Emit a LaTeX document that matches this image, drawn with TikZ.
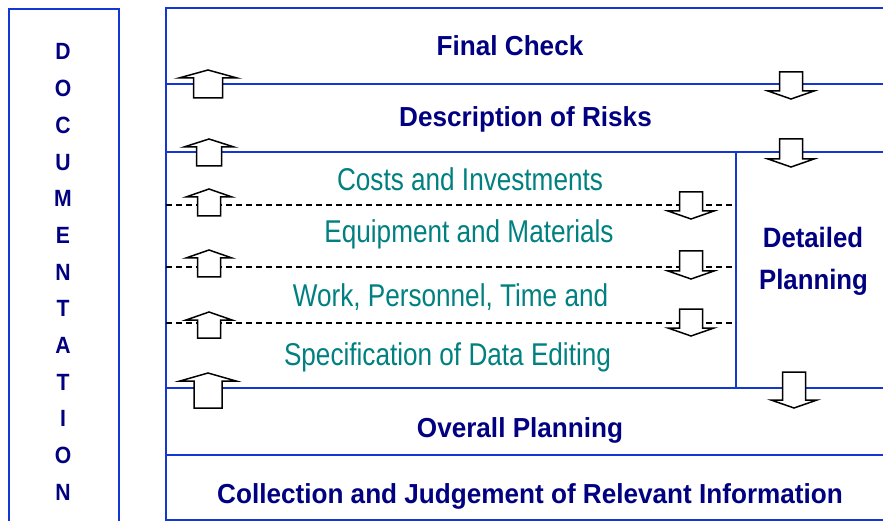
\documentclass[tikz,border=0pt]{standalone}
\usepackage{fontspec}
\setmainfont{Liberation Sans}
\newfontfamily\navyfont{Liberation Sans}[FakeStretch=0.95]
\newfontfamily\detfont{Liberation Sans}[FakeStretch=0.92]
\newfontfamily\docfont{Liberation Sans}[FakeStretch=0.9]
\newfontfamily\tealfont{Liberation Sans}[FakeStretch=0.83]
\definecolor{frameblue}{RGB}{20,55,210}
\definecolor{navytext}{RGB}{0,0,128}
\definecolor{tealtext}{RGB}{0,128,128}
\newcommand\blkup[4]{% x, tip y, total length, head half width
  \draw[blockarrow] (#1-#4/2,#2+#3) -- (#1-#4/2,#2+8) -- (#1-#4,#2+8) -- (#1,#2) -- (#1+#4,#2+8) -- (#1+#4/2,#2+8) -- (#1+#4/2,#2+#3) -- cycle;}
\newcommand\blkdown[4]{% x, top y, total length, head half width
  \draw[blockarrow] (#1-#4/2,#2) -- (#1-#4/2,#2+#3-8) -- (#1-#4,#2+#3-8) -- (#1,#2+#3) -- (#1+#4,#2+#3-8) -- (#1+#4/2,#2+#3-8) -- (#1+#4/2,#2) -- cycle;}
\begin{document}
\begin{tikzpicture}[x=1pt,y=-1pt,
  frame/.style={draw=frameblue,line width=2pt},
  dashline/.style={draw=black,line width=1.3pt,dash pattern=on 6pt off 4pt},
  blockarrow/.style={draw=black,fill=white,line width=1.5pt,line join=miter},
  hd/.style={font=\navyfont\bfseries\fontsize{27.5}{31}\selectfont,text=navytext,anchor=base,inner sep=0pt},
  det/.style={font=\detfont\bfseries\fontsize{28}{32}\selectfont,text=navytext,anchor=base,inner sep=0pt},
  sub/.style={font=\tealfont\fontsize{31.5}{36}\selectfont,text=tealtext,anchor=base,inner sep=0pt},
  doc/.style={font=\docfont\bfseries\fontsize{23.5}{26}\selectfont,text=navytext,anchor=base,inner sep=0pt}]
\useasboundingbox (0,0) rectangle (883,521);
% left documentation box
\draw[frame] (9,530) -- (9,9) -- (119,9) -- (119,530);
\foreach \l [count=\i from 0] in {D,O,C,U,M,E,N,T,A,T,I,O,N}
  \node[doc] (doc\i) at (63,60+36.67*\i) {\l};
% right frame
\draw[frame] (890,8) -- (166,8) -- (166,520) -- (890,520);
\draw[frame] (166,84) -- (890,84);
\draw[frame] (166,152) -- (890,152);
\draw[frame] (166,388) -- (890,388);
\draw[frame] (166,455) -- (890,455);
\draw[frame] (736,152) -- (736,388);
\draw[dashline] (166,205) -- (736,205);
\draw[dashline] (166,267) -- (736,267);
\draw[dashline] (166,323) -- (736,323);
% texts
\node[hd] (final) at (510,56) {Final Check};
\node[hd] (risks) at (525.5,127) {Description of Risks};
\node[sub] (costs) at (470,191) {Costs and Investments};
\node[sub] (equip) at (469,243) {Equipment and Materials};
\node[sub] (work) at (450.5,306.5) {Work, Personnel, Time and};
\node[sub] (spec) at (447.5,365) {Specification of Data Editing};
\node[det] (detailed) at (813,248) {Detailed};
\node[det] (planning) at (813.5,290) {Planning};
\node[hd] (overall) at (520,437) {Overall Planning};
\node[hd] (collect) at (530,503) {Collection and Judgement of Relevant Information};
% block arrows up
\blkup{208}{70}{28}{29}
\blkup{209}{139}{27}{25}
\blkup{209}{189}{27}{23}
\blkup{209}{250}{27}{23}
\blkup{209}{312}{26}{23}
\blkup{208}{373}{35}{28}
% block arrows down
\blkdown{791}{72}{27}{23}
\blkdown{791}{139}{28}{23}
\blkdown{691}{192}{27}{23}
\blkdown{691}{251}{28}{23}
\blkdown{691}{309}{27}{23}
\blkdown{794}{372}{36}{23}
\end{tikzpicture}
\end{document}
